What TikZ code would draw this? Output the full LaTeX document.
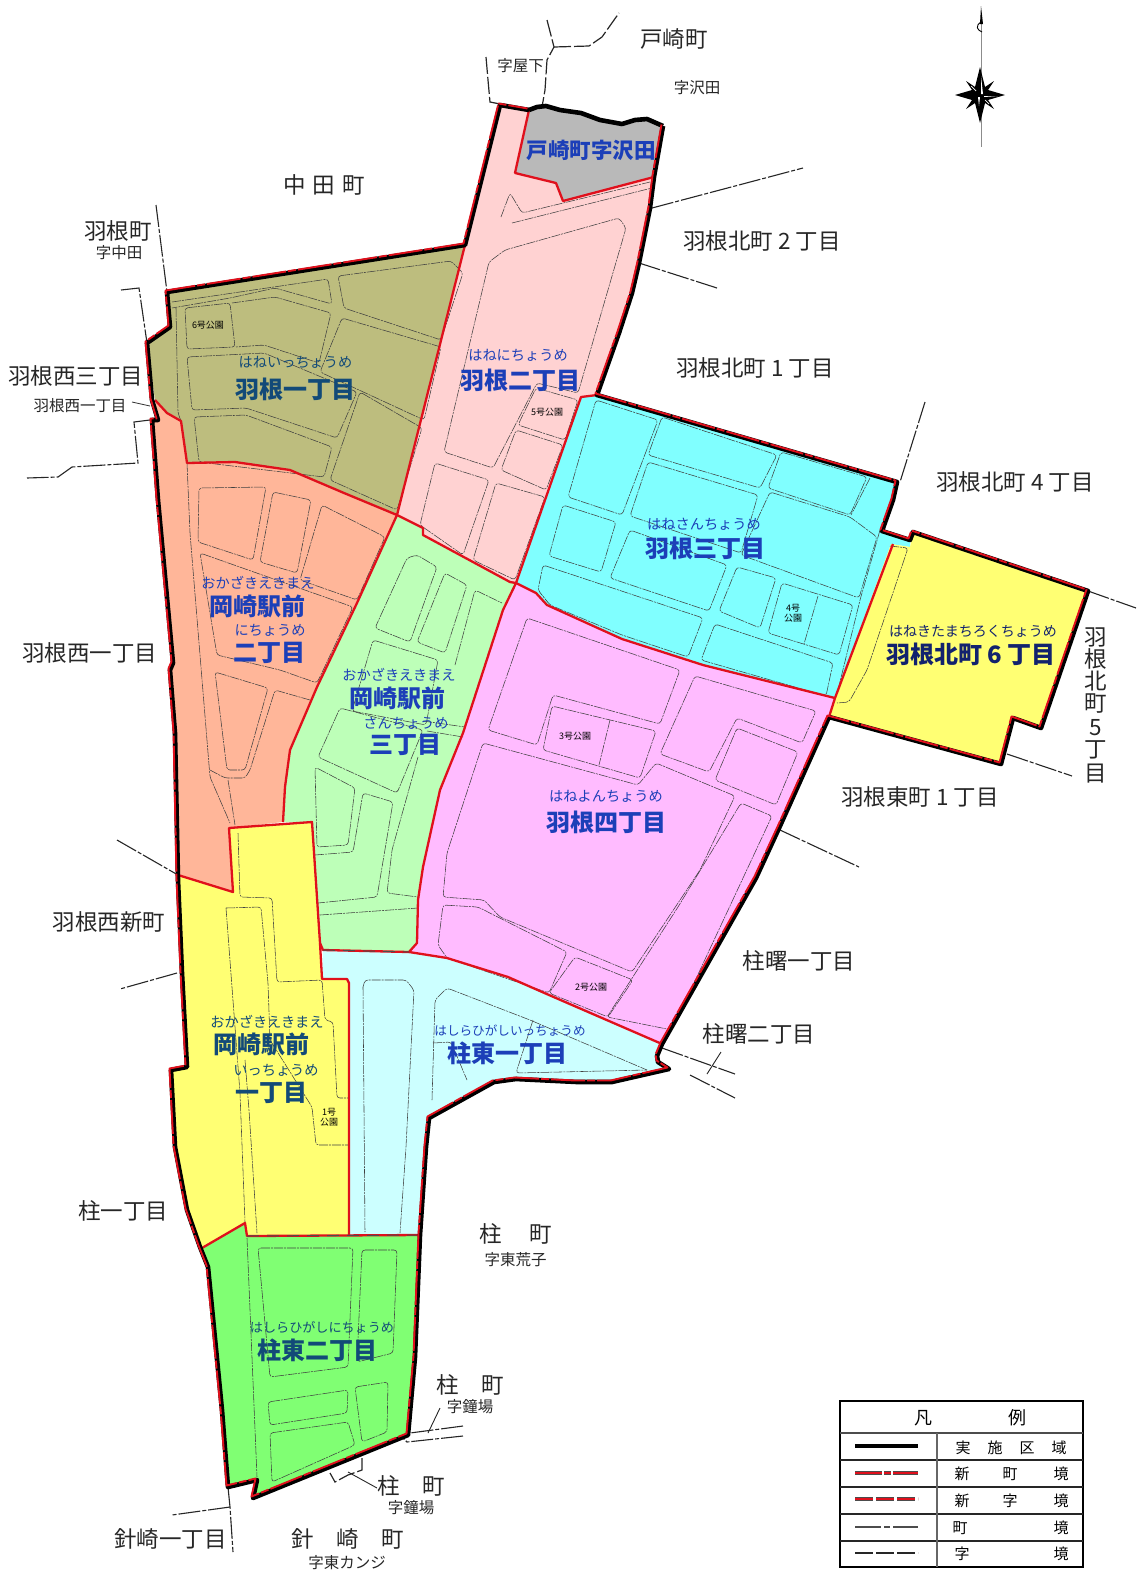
\documentclass[tikz,border=0pt]{standalone}
\usepackage{fontspec}
\setmainfont{Noto Sans CJK JP}
\newcommand{\OuterRed}{(663,126) -- (654,177) -- (650,208) -- (639,263) -- (632,293) -- (619,333) -- (597,395) -- (897,482) -- (893,500) -- (882,531) -- (910,540) -- (913,532) -- (1088,591) -- (1041,728) -- (1013,718) -- (1001,764) -- (829,717) -- (780,826) -- (756,878) -- (662,1044) -- (657,1056) -- (658,1062) -- (669,1069) -- (612,1082) -- (577,1082) -- (516,1079) -- (494,1082) -- (429,1118) -- (426,1147) -- (420,1235) -- (415,1357) -- (408,1435) -- (253,1498) -- (257,1480) -- (228,1487) -- (222,1410) -- (208,1267) -- (200,1247) -- (187,1210) -- (175,1147) -- (171,1070) -- (187,1067) -- (182,973) -- (178,880) -- (175,733) -- (170,670) -- (173,663) -- (158,500) -- (152,420) -- (158,420) -- (152,400) -- (147,343) -- (170,327) -- (167,292) -- (465,245) -- (500,105) -- (529,110)}
\definecolor{cOlive}{HTML}{BDBD7E}
\definecolor{cPink}{HTML}{FFD2D2}
\definecolor{cGray}{HTML}{B9B9B9}
\definecolor{cCyan}{HTML}{80FFFF}
\definecolor{cYellow}{HTML}{FFFF73}
\definecolor{cOrange}{HTML}{FFB699}
\definecolor{cLime}{HTML}{BDFFB8}
\definecolor{cMagenta}{HTML}{FFBBFF}
\definecolor{cPale}{HTML}{CCFFFF}
\definecolor{cGreen}{HTML}{80FF73}
\definecolor{cRed}{HTML}{E0101C}
\definecolor{cInk}{HTML}{262626}
\definecolor{cBlue}{HTML}{1C3FB8}
\definecolor{cTeal}{HTML}{124A78}
\definecolor{cNavy}{HTML}{12226E}
\tikzset{
 road/.style={draw=black!75,line width=.55pt,rounded corners=3pt,dash pattern=on 9pt off 1pt on 2pt off 1pt},
 redline/.style={draw=cRed,line width=2.3pt,line join=round},
 outred/.style={draw=cRed,line width=1.9pt,line join=round},
 blackline/.style={draw=black,line width=4.6pt,line join=round},
 townline/.style={draw=black!85,line width=1.1pt,dash pattern=on 22pt off 2pt on 4pt off 2pt},
 azaline/.style={draw=black!85,line width=1.2pt,dash pattern=on 17pt off 3pt},
 big/.style={font=\fontsize{22.5}{23}\selectfont,text=cInk,inner sep=0pt},
 small/.style={font=\fontsize{15.5}{16}\selectfont,text=cInk,inner sep=0pt},
 park/.style={font=\fontsize{9}{10}\selectfont,text=black,inner sep=0pt,align=center},
 kana/.style={font=\fontsize{14.2}{15}\selectfont,inner sep=0pt},
 ward/.style={font=\bfseries\fontsize{24}{24}\selectfont,inner sep=0pt},
 legtxt/.style={font=\fontsize{15}{15}\selectfont,text=black,inner sep=0pt},
}
\begin{document}
\begin{tikzpicture}[x=1pt,y=-1pt]
\useasboundingbox (0,0) rectangle (1136,1572);
% --- fills
\fill[cOlive] (167,292) -- (465,245) -- (397,515) -- (344,493) -- (290,470) -- (235,462) -- (187,463) -- (181,421) -- (167,413) -- (155,400) -- (147,343) -- (170,327) -- cycle;
\fill[cPink] (500,105) -- (529,110) -- (515,173) -- (556,183) -- (563,201) -- (654,177) -- (650,208) -- (639,263) -- (632,293) -- (619,333) -- (597,395) -- (581,397) -- (516,583) -- (510,582) -- (423,535) -- (423,528) -- (397,515) -- (465,245) -- cycle;
\fill[cGray] (529,110) -- (537,107) -- (546,106) -- (560,110) -- (581,113) -- (600,120) -- (622,124) -- (635,120) -- (647,119) -- (663,126) -- (654,177) -- (563,201) -- (556,183) -- (515,173) -- cycle;
\fill[cCyan] (581,397) -- (597,395) -- (897,482) -- (893,500) -- (882,531) -- (910,540) -- (910,547) -- (891,544) -- (835,698) -- (703,665) -- (622,639) -- (547,605) -- (536,593) -- (516,583) -- cycle;
\fill[cYellow] (891,544) -- (910,547) -- (913,532) -- (1088,591) -- (1041,728) -- (1013,718) -- (1001,764) -- (829,717) -- (835,698) -- cycle;
\fill[cMagenta] (516,583) -- (536,593) -- (547,605) -- (622,639) -- (703,665) -- (835,698) -- (829,717) -- (780,826) -- (756,878) -- (662,1044) -- (549,995) -- (508,977) -- (447,958) -- (409,952) -- (417,943) -- (418,900) -- (423,867) -- (440,790) -- (463,733) -- (503,610) -- cycle;
\fill[cLime] (397,515) -- (423,528) -- (423,535) -- (510,582) -- (516,583) -- (503,610) -- (463,733) -- (440,790) -- (423,867) -- (418,900) -- (417,943) -- (409,952) -- (323,950) -- (320,943) -- (312,822) -- (283,822) -- (285,787) -- (290,750) -- (317,687) -- (357,603) -- cycle;
\fill[cOrange] (155,400) -- (167,413) -- (181,421) -- (187,463) -- (235,462) -- (290,470) -- (344,493) -- (397,515) -- (357,603) -- (317,687) -- (290,750) -- (285,787) -- (283,822) -- (229,828) -- (233,892) -- (178,875) -- (175,733) -- (170,670) -- (173,663) -- (158,500) -- (152,420) -- (158,420) -- cycle;
\fill[cYellow] (178,875) -- (233,892) -- (229,828) -- (312,822) -- (320,943) -- (322,979) -- (347,979) -- (349,983) -- (349,1235) -- (247,1236) -- (245,1223) -- (202,1248) -- (200,1247) -- (187,1210) -- (175,1147) -- (171,1070) -- (187,1067) -- (182,973) -- cycle;
\fill[cPale] (323,950) -- (409,952) -- (447,958) -- (508,977) -- (549,995) -- (662,1044) -- (657,1056) -- (658,1062) -- (669,1069) -- (612,1082) -- (577,1082) -- (516,1079) -- (494,1082) -- (429,1118) -- (426,1147) -- (420,1235) -- (349,1235) -- (349,983) -- (347,979) -- (322,979) -- cycle;
\fill[cGreen] (245,1223) -- (247,1236) -- (349,1235) -- (420,1235) -- (415,1357) -- (408,1435) -- (253,1498) -- (257,1480) -- (228,1487) -- (222,1410) -- (208,1267) -- (202,1248) -- cycle;
% --- streets: olive
\draw[road] (172,302) -- (328,279) -- (332,304) -- (275,288) -- (230,298) -- (172,308);
\draw[road] (338,276) -- (451,261) -- (463,273) -- (441,340) -- (344,308) -- cycle;
\draw[road] (342,318) -- (441,347) -- (424,420) -- (320,372) -- cycle;
\draw[road] (185,308) -- (230,303) -- (235,347) -- (187,349) -- cycle;
\draw[road] (232,303) -- (275,297) -- (331,313) -- (319,363) -- (264,345) -- (236,347);
\draw[road] (187,357) -- (264,353) -- (357,392) -- (337,438) -- (246,408) -- (192,410) -- cycle;
\draw[road] (360,392) -- (422,428) -- (397,510) -- (330,480) -- cycle;
\draw[road] (194,417) -- (246,415) -- (332,447) -- (324,477) -- (199,462) -- cycle;
\draw[road] (176,308) -- (178,413) -- (181,421);
% pink
\draw[road] (501,217) -- (510,193) -- (522,213) -- (650,182);
\draw[road] (512,223) -- (652,188);
\draw[road] (444,452) -- (489,262) -- (505,250) -- (619,218) -- (626,228) -- (578,393) -- (537,383) -- (493,468) -- cycle;
\draw[road] (536,388) -- (578,400) -- (565,440) -- (518,425) -- cycle;
\draw[road] (516,430) -- (563,445) -- (546,490) -- (501,470) -- cycle;
\draw[road] (435,463) -- (489,480) -- (463,555) -- (420,525) -- cycle;
\draw[road] (496,483) -- (545,497) -- (515,580) -- (473,560) -- cycle;
% cyan
\draw[road] (596,400) -- (658,420) -- (622,515) -- (568,497) -- cycle;
\draw[road] (662,417) -- (777,455) -- (760,488) -- (648,455) -- cycle;
\draw[road] (781,452) -- (867,477) -- (850,515) -- (768,488) -- cycle;
\draw[road] (870,478) -- (851,515);
\draw[road] (770,492) -- (850,517) -- (877,537) -- (859,598) -- (741,555) -- cycle;
\draw[road] (648,462) -- (758,495) -- (741,553) -- (630,516) -- cycle;
\draw[road] (630,530) -- (727,565) -- (709,611) -- (610,578) -- cycle;
\draw[road] (563,505) -- (616,522) -- (601,572) -- (549,556) -- cycle;
\draw[road] (543,565) -- (703,618) -- (688,657) -- (622,635) -- (550,605) -- (538,590) -- cycle;
\draw[road] (737,567) -- (776,578) -- (760,628) -- (719,611) -- cycle;
\draw[road] (782,583) -- (853,605) -- (839,655) -- (768,633) -- cycle;
\draw[road] (818,596) -- (804,644);
\draw[road] (715,624) -- (833,663) -- (826,696) -- (701,660) -- cycle;
\draw[road] (880,530) -- (860,600) -- (838,690);
% yellow north
\draw[road] (890,546) -- (908,548) -- (867,670) -- (849,702) -- (837,703);
% magenta
\draw[road] (527,618) -- (680,670) -- (660,724) -- (553,695) -- (537,745) -- (488,730) -- cycle;
\draw[road] (552,706) -- (656,731) -- (640,778) -- (543,750) -- cycle;
\draw[road] (610,720) -- (599,765);
\draw[road] (695,676) -- (816,711) -- (802,743) -- (737,718) -- (709,772) -- (660,754) -- cycle;
\draw[road] (737,728) -- (798,752) -- (776,805) -- (715,780) -- cycle;
\draw[road] (483,743) -- (638,785) -- (656,763) -- (735,796) -- (700,870) -- (632,972) -- (500,917) -- (484,900) -- (443,897) -- (447,853) -- cycle;
\draw[road] (741,803) -- (772,816) -- (672,1030) -- (607,1017) -- (678,907) -- cycle;
\draw[road] (443,905) -- (478,907) -- (567,952) -- (549,993) -- (447,958) -- (438,945) -- cycle;
\draw[road] (575,957) -- (633,980) -- (608,1017) -- (549,993) -- cycle;
% lime
\draw[road] (407,558) -- (417,555) -- (437,567) -- (410,642) -- (375,628) -- cycle;
\draw[road] (445,573) -- (467,585) -- (445,653) -- (417,642) -- cycle;
\draw[road] (455,665) -- (475,590) -- (502,603);
\draw[road] (373,640) -- (438,660) -- (426,725) -- (352,711) -- cycle;
\draw[road] (340,708) -- (423,730) -- (397,793) -- (318,757) -- cycle;
\draw[road] (423,721) -- (465,727);
\draw[road] (427,731) -- (463,737);
\draw[road] (315,767) -- (355,788) -- (348,845) -- (317,847) -- cycle;
\draw[road] (315,855) -- (353,852) -- (363,793) -- (393,802) -- (377,897) -- (318,903);
\draw[road] (418,757) -- (392,850) -- (387,893) -- (418,897);
\draw[road] (320,915) -- (418,908);
% orange
\draw[road] (187,463) -- (190,533) -- (210,777) -- (230,823);
\draw[road] (199,488) -- (266,487) -- (253,560) -- (198,542) -- cycle;
\draw[road] (273,492) -- (311,500) -- (297,573) -- (260,562) -- cycle;
\draw[road] (322,505) -- (385,537) -- (357,600) -- (300,580) -- cycle;
\draw[road] (200,553) -- (353,607) -- (317,683) -- (280,670) -- (217,655) -- cycle;
\draw[road] (215,672) -- (268,688) -- (245,770) -- (227,770) -- cycle;
\draw[road] (310,700) -- (275,690) -- (250,770) -- (245,778) -- (225,778) -- (210,770);
\draw[road] (228,780) -- (235,825);
% yellow
\draw[road] (238,833) -- (240,897) -- (272,898) -- (277,982) -- (322,980) -- (325,1020) -- (333,1022) -- (337,1098) -- (349,1098);
\draw[road] (226,908) -- (261,907) -- (268,983) -- (270,1040) -- (312,1107) -- (316,1145) -- (349,1145);
\draw[road] (226,908) -- (240,1093) -- (245,1222);
\draw[road] (245,1060) -- (249,1110) -- (257,1233);
% pale
\draw[road] (363,987) -- (365,980) -- (406,980) -- (414,990) -- (406,1147) -- (400,1233);
\draw[road] (363,987) -- (365,1232);
\draw[road] (432,1100) -- (435,1000) -- (447,988) -- (530,1020) -- (647,1070);
\draw[road] (533,1020) -- (516,1073) -- (647,1070);
\draw[road] (433,1043) -- (451,1042) -- (467,1080);
% green
\draw[road] (247,1238) -- (257,1477);
\draw[road] (258,1248) -- (353,1248) -- (348,1367) -- (270,1377) -- cycle;
\draw[road] (362,1250) -- (397,1250) -- (393,1353) -- (357,1362) -- cycle;
\draw[road] (268,1402) -- (348,1390) -- (347,1413) -- (270,1425) -- cycle;
\draw[road] (355,1387) -- (388,1382) -- (387,1432) -- (362,1442) -- cycle;
\draw[road] (270,1433) -- (348,1422) -- (355,1445) -- (272,1482) -- cycle;
% --- outside boundaries
\draw[townline] (156,205) -- (167,292);
\draw[townline] (121,290) -- (139,288) -- (147,343);
\draw[draw=black!80,line width=.8pt] (132,402) -- (150,406);
\draw[townline] (150,420) -- (134,422) -- (138,463) -- (72,467) -- (58,477) -- (27,478);
\draw[azaline] (547,20) -- (554,47) -- (547,60) -- (545,90) -- (542,107);
\draw[azaline] (554,47) -- (589,46) -- (602,37) -- (619,13);
\draw[azaline] (486,57) -- (488,80) -- (490,102) -- (500,104);
\draw[townline] (652,208) -- (803,168);
\draw[townline] (639,263) -- (717,288);
\draw[townline] (925,402) -- (900,482);
\draw[townline] (1088,591) -- (1136,608);
\draw[townline] (1007,754) -- (1072,776);
\draw[townline] (780,830) -- (859,867);
\draw[townline] (662,1048) -- (735,1074);
\draw[draw=black!85,line width=.9pt] (721,1052) -- (707,1074);
\draw[townline] (690,1075) -- (735,1098);
\draw[townline] (117,840) -- (178,875);
\draw[townline] (177,973) -- (120,989);
\draw[townline] (463,1426) -- (410,1433);
\draw[townline] (463,1436) -- (407,1442) -- (402,1437);
\draw[draw=black!85,line width=.9pt] (440,1408) -- (428,1433);
\draw[azaline] (362,1458) -- (362,1470) -- (348,1475) -- (335,1482) -- (330,1473);
\draw[draw=black!85,line width=.9pt] (348,1472) -- (377,1488);
\draw[townline] (228,1487) -- (230,1507) -- (233,1552);
\draw[townline] (230,1507) -- (172,1515);
% --- new boundaries
\draw[redline] (465,245) -- (397,515) -- (423,528) -- (423,535) -- (510,582) -- (516,583) -- (581,397) -- (597,395);
\draw[redline] (529,110) -- (515,173) -- (556,183) -- (563,201) -- (654,177);
\draw[redline] (516,583) -- (536,593) -- (547,605) -- (622,639) -- (703,665) -- (835,698);
\draw[redline] (893,544) -- (835,698) -- (829,717);
\draw[redline] (516,583) -- (503,610) -- (463,733) -- (440,790) -- (423,867) -- (418,900) -- (417,943) -- (409,952) -- (447,958) -- (508,977) -- (549,995) -- (662,1044);
\draw[redline] (397,515) -- (344,493) -- (290,470) -- (235,462) -- (187,463) -- (181,421) -- (167,413) -- (155,400);
\draw[redline] (397,515) -- (357,603) -- (317,687) -- (290,750) -- (285,787) -- (283,822);
\draw[redline] (178,875) -- (233,892) -- (229,828) -- (312,822) -- (320,943) -- (322,979) -- (347,979) -- (349,983) -- (349,1235);
\draw[redline] (202,1248) -- (245,1223) -- (247,1236) -- (420,1235);
\draw[redline] (320,943) -- (323,950) -- (409,952);
\draw[draw=black!70,line width=1pt,dash pattern=on 12pt off 8pt] (323,950) -- (409,952);
\draw[draw=black!70,line width=1pt,dash pattern=on 12pt off 8pt] (247,1236) -- (420,1235);
% --- outer boundary
\draw[blackline] (529,110) -- (537,107) -- (546,106) -- (560,110) -- (581,113) -- (600,120) -- (622,124) -- (635,120) -- (647,119) -- (663,126);
\draw[blackline] \OuterRed;
\begin{scope}[xshift=-1.5pt,yshift=1.5pt]
\draw[outred,dash pattern=on 34pt off 2pt on 8pt off 2pt] \OuterRed;
\end{scope}
% --- park labels
\node[park] (p6) at (208,325) {6号公園};
\node[park] (p5) at (547,412) {5号公園};
\node[park] (p4) at (793,613) {4号\\公園};
\node[park] (p3) at (575,736) {3号公園};
\node[park] (p2) at (591,987) {2号公園};
\node[park] (p1) at (329,1117) {1号\\公園};
% --- outside names
\node[big] (n01) at (324,184.5) {中\hspace{7pt}田\hspace{7pt}町};
\node[big] (n02) at (674,39) {戸崎町};
\node[small] (n03) at (697,88) {字沢田};
\node[small] (n04) at (520.5,66) {字屋下};
\node[big] (n05) at (118,231) {羽根町};
\node[small] (n06) at (119,253) {字中田};
\node[big] (n07) at (76,376) {羽根西三丁目};
\node[small] (n08) at (80,406) {羽根西一丁目};
\node[big] (n09) at (762,241) {羽根北町 2 丁目};
\node[big] (n10) at (755,368) {羽根北町 1 丁目};
\node[big] (n11) at (1015,481.5) {羽根北町 4 丁目};
\node[big] (n12) at (90,653) {羽根西一丁目};
\node[big] (n13) at (920,797) {羽根東町 1 丁目};
\node[big] (n14) at (799,961) {柱曙一丁目};
\node[big] (n15) at (759,1034) {柱曙二丁目};
\node[big] (n16) at (109,922) {羽根西新町};
\node[big] (n17) at (123,1211) {柱一丁目};
\node[big] (n18) at (515.5,1234) {柱\hspace{27pt}町};
\node[small] (n19) at (515.5,1260) {字東荒子};
\node[big] (n20) at (470,1385) {柱\quad 町};
\node[small] (n21) at (470,1407) {字鐘場};
\node[big] (n22) at (411,1486) {柱\quad 町};
\node[small] (n23) at (411,1508) {字鐘場};
\node[big] (n24) at (170.5,1539) {針崎一丁目};
\node[big] (n25) at (348,1539) {針\quad 崎\quad 町};
\node[small] (n26) at (347,1563) {字東カンジ};
\node[big] (v1) at (1096,637) {羽};
\node[big] (v2) at (1096,659) {根};
\node[big] (v3) at (1096,681) {北};
\node[big] (v4) at (1096,704) {町};
\node[big] (v5) at (1096,728) {5};
\node[big] (v6) at (1096,750) {丁};
\node[big] (v7) at (1096,774) {目};
% --- ward names
\node[ward,text=cBlue,font=\bfseries\fontsize{21.5}{22}\selectfont] (w0) at (591,150) {戸崎町字沢田};
\node[kana,text=cTeal] (k1) at (295.5,362) {はねいっちょうめ};
\node[ward,text=cTeal] (w1) at (295.5,389) {羽根一丁目};
\node[kana,text=cBlue] (k2) at (518,355) {はねにちょうめ};
\node[ward,text=cBlue] (w2) at (520,380) {羽根二丁目};
\node[kana,text=cBlue] (k3) at (704,524) {はねさんちょうめ};
\node[ward,text=cBlue] (w3) at (705,548) {羽根三丁目};
\node[kana,text=cNavy,font=\fontsize{14}{15}\selectfont] (k6) at (973,631) {はねきたまちろくちょうめ};
\node[ward,text=cNavy] (w6) at (971,654) {羽根北町 6 丁目};
\node[kana,text=cBlue] (k4) at (606,796) {はねよんちょうめ};
\node[ward,text=cBlue] (w4) at (606,822) {羽根四丁目};
\node[kana,text=cBlue] (k7) at (258,583) {おかざきえきまえ};
\node[ward,text=cBlue] (w7) at (257,606) {岡崎駅前};
\node[kana,text=cBlue] (k8) at (270,630) {にちょうめ};
\node[ward,text=cBlue] (w8) at (269,653) {二丁目};
\node[kana,text=cBlue] (k9) at (399,675) {おかざきえきまえ};
\node[ward,text=cBlue] (w9) at (397,698) {岡崎駅前};
\node[kana,text=cBlue] (k10) at (406,723) {さんちょうめ};
\node[ward,text=cBlue] (w10) at (405,745) {三丁目};
\node[kana,text=cTeal] (k11) at (267,1022) {おかざきえきまえ};
\node[ward,text=cTeal] (w11) at (261,1044) {岡崎駅前};
\node[kana,text=cTeal] (k12) at (276,1070) {いっちょうめ};
\node[ward,text=cTeal] (w12) at (271,1093) {一丁目};
\node[kana,text=cBlue,font=\fontsize{12.6}{13}\selectfont] (k13) at (510,1031) {はしらひがしいっちょうめ};
\node[ward,text=cBlue] (w13) at (507,1053) {柱東一丁目};
\node[kana,text=cTeal,font=\fontsize{13.1}{14}\selectfont] (k14) at (322,1327) {はしらひがしにちょうめ};
\node[ward,text=cTeal] (w14) at (317,1350) {柱東二丁目};
% --- compass
\draw[draw=black!45,line width=1pt] (981,20) -- (981,147);
\fill[black] (981,6) -- (983,24) -- (980,24) -- cycle;
\draw[black,line width=.9pt] (981,22) .. controls (975,26) and (977,30) .. (982,32);
\fill[black] (980,67) -- (985,87) -- (994,81) -- (988,90) -- (1005,95) -- (988,100) -- (994,109) -- (985,103) -- (980,123) -- (975,103) -- (966,109) -- (972,100) -- (955,95) -- (972,90) -- (966,81) -- (975,87) -- cycle;
\fill[white] (981,76) -- (983,94) -- (981,94) -- cycle;
\fill[white] (984,96) -- (998,96) -- (984,97) -- cycle;
\fill[white] (979,106) -- (980,97) -- (978,97) -- cycle;
\draw[white,line width=.7pt] (976,91) -- (971,86);
\draw[white,line width=.7pt] (985,100) -- (989,104);
% --- legend
\draw[black,line width=2pt] (840,1401) rectangle (1083,1567);
\draw[black!70,line width=1.6pt] (840,1433) -- (1083,1433);
\draw[black!85,line width=1.2pt] (840,1460) -- (1083,1460);
\draw[black!85,line width=1.2pt] (840,1487) -- (1083,1487);
\draw[black!85,line width=1.2pt] (840,1514) -- (1083,1514);
\draw[black!85,line width=1.2pt] (840,1541) -- (1083,1541);
\draw[black!60,line width=1.2pt] (937,1433) -- (937,1567);
\node[legtxt,font=\fontsize{18}{18}\selectfont] (g1) at (923,1418) {凡};
\node[legtxt,font=\fontsize{18}{18}\selectfont] (g2) at (1017,1418) {例};
\coordinate (la1) at (855,1446); \coordinate (lb1) at (918,1446);
\coordinate (la2) at (855,1473); \coordinate (lb2) at (918,1473);
\coordinate (la3) at (855,1499); \coordinate (lb3) at (918,1499);
\coordinate (la4) at (855,1527); \coordinate (lb4) at (918,1527);
\coordinate (la5) at (855,1553); \coordinate (lb5) at (918,1553);
\draw[black,line width=3.4pt] (la1) -- (lb1);
\draw[black!70,line width=3.6pt,dash pattern=on 27pt off 2pt on 7pt off 2pt] (la2) -- (lb2);
\draw[cRed,line width=2.4pt,dash pattern=on 27pt off 2pt on 7pt off 2pt] (la2) -- (lb2);
\draw[black!70,line width=3.6pt,dash pattern=on 18pt off 3pt] (la3) -- (lb3);
\draw[cRed,line width=2.4pt,dash pattern=on 18pt off 3pt] (la3) -- (lb3);
\draw[black!70,line width=1.2pt,dash pattern=on 26pt off 3pt on 6pt off 3pt] (la4) -- (lb4);
\draw[black!85,line width=1.8pt,dash pattern=on 18pt off 3pt] (la5) -- (lb5);
\node[legtxt] (a1) at (963,1448) {実};
\node[legtxt] (a2) at (995,1448) {施};
\node[legtxt] (a3) at (1027,1448) {区};
\node[legtxt] (a4) at (1059,1448) {域};
\node[legtxt] (b1) at (962,1474) {新};
\node[legtxt] (b2) at (1010,1474) {町};
\node[legtxt] (b3) at (1061,1474) {境};
\node[legtxt] (c1) at (962,1501) {新};
\node[legtxt] (c2) at (1010,1501) {字};
\node[legtxt] (c3) at (1061,1501) {境};
\node[legtxt] (d1) at (960,1528) {町};
\node[legtxt] (d3) at (1061,1528) {境};
\node[legtxt] (e1) at (962,1554) {字};
\node[legtxt] (e3) at (1061,1554) {境};
\end{tikzpicture}
\end{document}
